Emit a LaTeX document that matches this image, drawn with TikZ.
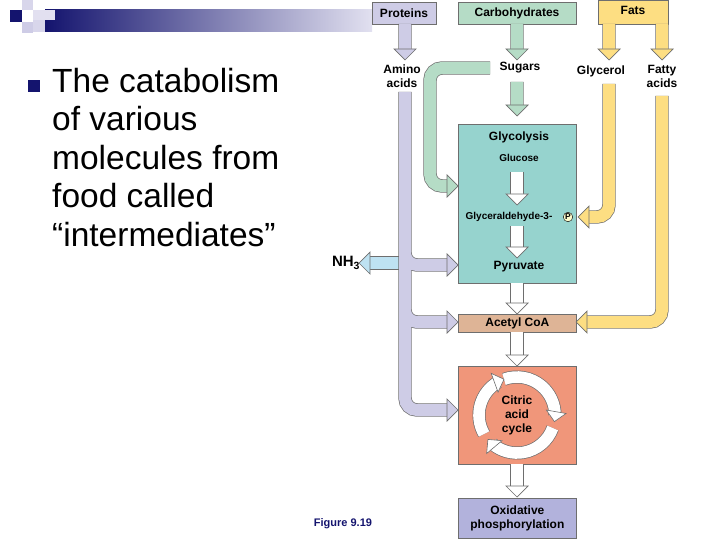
\documentclass[tikz,border=0pt]{standalone}
\usepackage{fontspec}
\setmainfont{Liberation Sans}
\usetikzlibrary{arrows.meta,calc}
\definecolor{navy}{RGB}{20,20,110}
\definecolor{lav}{RGB}{206,204,230}
\definecolor{grn}{RGB}{181,220,198}
\definecolor{yel}{RGB}{253,222,130}
\definecolor{teal2}{RGB}{150,211,206}
\definecolor{tan2}{RGB}{222,180,150}
\definecolor{salm}{RGB}{240,150,122}
\definecolor{oxi}{RGB}{178,178,220}
\definecolor{nhb}{RGB}{190,226,242}
\definecolor{agray}{RGB}{110,110,110}
\newcommand\hd[4]{\filldraw[fill=#1,draw=agray,line width=0.7pt,shift={(#2,#3)},rotate=#4] (0,0) -- (-11,-11) -- (-11,11) -- cycle;}
\tikzset{
 outl/.style={draw=agray,line width=13.4pt,rounded corners=12pt},
 inn/.style={draw=#1,line width=12pt,rounded corners=12pt},
 box/.style={draw=agray,line width=0.7pt,fill=#1},
 lab/.style={font=\fontsize{12}{14}\selectfont\bfseries,align=center},
}
\begin{document}
\begin{tikzpicture}[x=1pt,y=-1pt]
\useasboundingbox (0,0) rectangle (720,540);
% header decoration
\shade[left color=navy,right color=lav!60] (45,10) rectangle (372,32);
\fill[lav!80] (22,0) rectangle (33,10);
\fill[lav!60] (33,10) rectangle (55,20);
\fill[lav] (22,22) rectangle (33,33);
\fill[lav!80] (33,20) rectangle (45,32);
\fill[navy] (10,10) rectangle (22,22);
% bullet and text
\fill[navy] (28,80) rectangle (40,92);
\node[anchor=north west,align=left,font=\fontsize{33.5}{38.5}\selectfont,inner sep=0] (txt) at (52,68) {The catabolism\\of various\\molecules from\\food called\\“intermediates”};
% top boxes
\node[box=lav,minimum width=64pt,minimum height=22pt,lab] (prot) at (404,13) {Proteins};
\node[box=grn,minimum width=118pt,minimum height=22pt,lab] (carb) at (517,13) {Carbohydrates};
\node[box=yel,minimum width=70pt,minimum height=24pt,lab,anchor=north] (fats) at (633,0) {\raisebox{4pt}{Fats}};
% main boxes
\node[box=teal2,minimum width=118pt,minimum height=159pt,anchor=north west] (glyc) at (458,124) {};
\node[box=tan2,minimum width=118pt,minimum height=18pt,anchor=north west,lab] (acoa) at (458,314) {Acetyl CoA};
\node[box=salm,minimum width=118pt,minimum height=98pt,anchor=north west] (cit) at (458,366) {};
\node[box=oxi,minimum width=118pt,minimum height=40pt,anchor=north west,lab] (oxp) at (458,498) {Oxidative\\phosphorylation};
% labels
\node[lab] (amino) at (402,76) {Amino\\acids};
\node[lab] (sug) at (520,68) {Sugars};
\node[lab] (glyo) at (601,71) {Glycerol};
\node[lab] (fa) at (662,76) {Fatty\\acids};
\node[lab] (gl) at (519,137) {Glycolysis};
\node[lab,font=\fontsize{10}{12}\selectfont\bfseries] (glu) at (519,158) {Glucose};
\node[lab,font=\fontsize{10}{12}\selectfont\bfseries] (g3p) at (509,217) {Glyceraldehyde-3-};
\node[circle,draw=black,fill=yellow!20,inner sep=0.5pt,font=\fontsize{8.5}{9}\selectfont\bfseries] (pc) at (568,217) {P};
\node[lab] (pyr) at (519,267) {Pyruvate};
\node[lab,font=\fontsize{15}{17}\selectfont\bfseries] (nh3) at (346,263) {NH\textsubscript{3}};
\node[font=\fontsize{11}{13}\selectfont\bfseries,text=navy] (fig) at (343,524) {Figure 9.19};
% NH3 arrow
\draw[outl] (405,263) -- (370,263); \draw[inn=nhb] (405,263) -- (370,263); \hd{nhb}{359}{263}{180}
% lavender arrows
\draw[outl] (405,24) -- (405,50) (405,92) |- (448,410) (405,240) |- (448,265) (405,300) |- (448,322);
\draw[inn=lav] (405,24) -- (405,50) (405,92) |- (448,410) (405,240) |- (448,265) (405,300) |- (448,322);
\hd{lav}{405}{60}{-90} \hd{lav}{458}{265}{0} \hd{lav}{458}{322}{0} \hd{lav}{458}{410}{0}
% green arrows
\draw[outl] (517,24) -- (517,50) (517,82) -- (517,106) (490,68) -| (430,186) -- (448,186);
\draw[inn=grn] (517,24) -- (517,50) (517,82) -- (517,106) (490,68) -| (430,186) -- (448,186);
\hd{grn}{517}{60}{-90} \hd{grn}{517}{116}{-90} \hd{grn}{458}{186}{0}
% yellow arrows
\draw[outl] (609,24) -- (609,50) (662,24) -- (662,50) (609,84) |- (589,217) (662,96) |- (587,322);
\draw[inn=yel] (609,24) -- (609,50) (662,24) -- (662,50) (609,84) |- (589,217) (662,96) |- (587,322);
\hd{yel}{609}{60}{-90} \hd{yel}{662}{60}{-90} \hd{yel}{578}{217}{180} \hd{yel}{576}{322}{180}
% white arrows
\draw[outl] (517,172) -- (517,195) (517,226) -- (517,248) (517,283) -- (517,304) (517,332) -- (517,356) (517,464) -- (517,487);
\draw[inn=white] (517,172) -- (517,195) (517,226) -- (517,248) (517,283) -- (517,304) (517,332) -- (517,356) (517,464) -- (517,487);
\hd{white}{517}{205}{-90} \hd{white}{517}{258}{-90} \hd{white}{517}{314}{-90} \hd{white}{517}{366}{-90} \hd{white}{517}{497}{-90}
% citric acid cycle ring
\foreach \a/\b in {-110/0, 20/130, 150/240}{
  \draw[agray,line width=13pt] ([shift={(\a:38)}]517,415) arc[start angle=\a,end angle=\b,radius=38];
  \draw[white,line width=11.6pt] ([shift={(\a:38)}]517,415) arc[start angle=\a,end angle=\b,radius=38];
  \filldraw[fill=white,draw=agray,line width=0.6pt,shift={($(517,415)+(\b+10:38)$)},rotate=-\b-10-90] (0,0) -- (-10,-10) -- (-10,10) -- cycle;
}
\node[lab] (cac) at (517,415) {Citric\\acid\\cycle};
\end{tikzpicture}
\end{document}
